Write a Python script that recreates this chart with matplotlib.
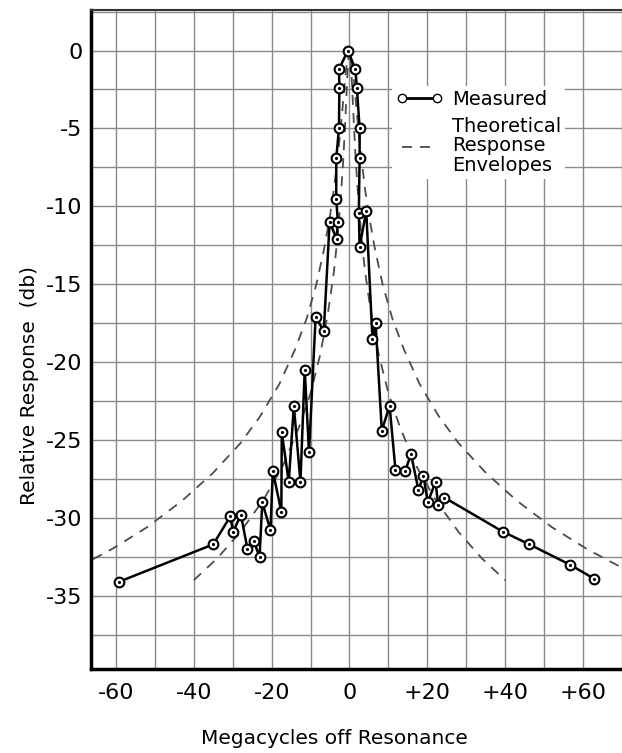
import matplotlib.pyplot as plt
from matplotlib.lines import Line2D
import numpy as np

plt.rcParams['axes.unicode_minus'] = False

# measured response: megacycles off resonance / relative response (db)
meas_mc = [-59.2, -35.0, -30.6, -29.9, -27.9, -26.2, -24.6, -23.1, -22.4, -20.3,
           -19.7, -17.5, -17.4, -15.6, -14.3, -12.6, -11.5, -10.4, -8.7, -6.6,
           -5.1, -3.3, -3.0, -3.4, -3.4, -2.7, -2.6, -2.7, -0.4, 1.5,
           1.9, 2.6, 2.6, 2.4, 2.6, 4.3, 5.9, 6.7, 8.3, 10.3,
           11.8, 14.3, 15.8, 17.7, 19.0, 20.1, 22.1, 22.8, 24.4, 39.5,
           46.2, 56.6, 62.8]
meas_db = [-34.1, -31.7, -29.9, -30.9, -29.8, -32.0, -31.5, -32.5, -29.0, -30.8,
           -27.0, -29.6, -24.5, -27.7, -22.8, -27.7, -20.5, -25.8, -17.1, -18.0,
           -11.0, -12.1, -11.0, -9.5, -6.9, -5.0, -2.4, -1.2, 0.0, -1.2,
           -2.4, -5.0, -6.9, -10.4, -12.6, -10.3, -18.5, -17.5, -24.4, -22.8,
           -26.9, -27.0, -25.9, -28.2, -27.3, -29.0, -27.7, -29.2, -28.7, -30.9,
           -31.7, -33.0, -33.9]

# theoretical response envelopes (same on both sides of resonance)
outer_mc = [0, 0.5, 1, 1.5, 2, 3, 4, 5, 6.5, 8.5, 11, 14, 18, 23, 28, 35, 43, 52, 61, 70]
outer_db = [0, -0.4, -1.5, -2.9, -4.3, -6.8, -8.9, -10.6, -12.7, -15.0, -17.2, -19.2,
            -21.4, -23.5, -25.2, -27.1, -28.9, -30.6, -32.0, -33.2]
inner_mc = [0, 0.25, 0.5, 0.8, 1.2, 1.6, 2.2, 3, 4, 5.5, 7.5, 10, 13, 17, 22, 28, 34, 40]
inner_db = [0, -0.4, -1.4, -3.0, -5.1, -7.0, -9.3, -11.8, -14.2, -16.8, -19.5, -22.0,
            -24.2, -26.6, -28.8, -30.9, -32.6, -34.0]

fig = plt.figure(figsize=(6.22, 7.53), dpi=100)
ax = fig.add_axes([91/622, 1-669/753, (622-91)/622, (669-10)/753])

env_style = dict(color='#4d4d48', lw=1.3, dashes=(5.5, 4.5))
for mc, db in [(outer_mc, outer_db), (inner_mc, inner_db)]:
    mc = np.array(mc)
    db = np.array(db)
    ax.plot(np.concatenate([-mc[::-1], mc]), np.concatenate([db[::-1], db]), **env_style)

ax.plot(meas_mc, meas_db, color='black', lw=1.8, marker='o', ms=7, mfc='white',
        mec='black', mew=1.5, zorder=4)
ax.plot(meas_mc, meas_db, ls='none', marker='.', ms=2.5, color='black', zorder=5)

ax.set_xlim(-66.4, 69.7)
ax.set_ylim(-39.7, 2.6)
ax.set_xticks(np.arange(-60, 61, 20))
ax.set_xticklabels(['-60', '-40', '-20', '0', '+20', '+40', '+60'])
ax.set_xticks(np.arange(-60, 71, 10), minor=True)
ax.set_yticks(np.arange(0, -36, -5))
ax.set_yticks(np.arange(2.5, -39, -2.5), minor=True)
ax.tick_params(which='both', length=0, labelsize=16)
ax.tick_params(axis='x', pad=10)
ax.tick_params(axis='y', pad=6)
ax.grid(True, which='both', color='#8a8a8a', lw=1)
ax.set_axisbelow(True)

for side in ['left', 'bottom']:
    ax.spines[side].set_linewidth(2.5)
ax.spines['top'].set_linewidth(1.5)
ax.spines['top'].set_color('#333333')
ax.spines['right'].set_visible(False)

ax.set_xlabel('Megacycles off Resonance', fontsize=14.5, va='center')
ax.xaxis.set_label_coords(0.458, -0.106)
ax.set_ylabel('Relative Response  (db)', fontsize=14.5, va='center')
ax.yaxis.set_label_coords(-0.115, 0.43)

handles = [Line2D([], [], color='black', lw=2, marker='o', ms=6, mfc='white', mec='black'),
           Line2D([], [], **env_style)]
leg = ax.legend(handles, ['Measured', 'Theoretical\nResponse\nEnvelopes'], numpoints=2,
                loc='upper left', bbox_to_anchor=(392/622, 1-86/753),
                bbox_transform=fig.transFigure, fontsize=14, frameon=True,
                handlelength=2.4, handletextpad=0.5, labelspacing=0.4,
                borderpad=0.2, borderaxespad=0)
leg.get_frame().set_facecolor('white')
leg.get_frame().set_edgecolor('none')
leg.get_frame().set_alpha(1)
for t in leg.get_texts():
    t.set_linespacing(1.05)

fig.savefig('out.png', dpi=100)
